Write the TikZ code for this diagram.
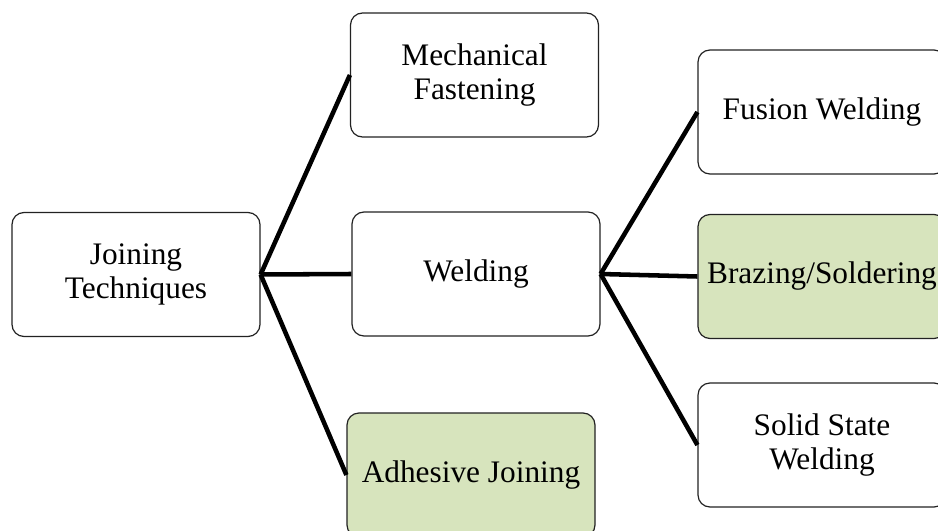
\documentclass[tikz,border=0pt]{standalone}
\usepackage{fontspec}
\setmainfont{Liberation Serif}
\definecolor{boxgreen}{HTML}{D7E4BD}
\definecolor{boxline}{HTML}{222222}
\begin{document}
\begin{tikzpicture}[x=0.75pt,y=-0.75pt,
  box/.style={draw=boxline,line width=0.9pt,rounded corners=9pt,fill=white,
    minimum width=186pt,minimum height=93pt,inner xsep=1pt,inner ysep=1pt,
    align=center,font=\fontsize{23.5}{25}\selectfont},
  gbox/.style={box,fill=boxgreen},
  link/.style={line width=3.4pt,black}]
\useasboundingbox (0,0) rectangle (938,531);
\node[box] (J) at (136,274.5) {Joining\\Techniques};
\node[box] (M) at (474.5,75) {Mechanical\\Fastening};
\node[box] (W) at (476,274) {Welding};
\node[gbox] (A) at (471,475) {Adhesive Joining};
\node[box] (F) at (822,112) {Fusion Welding};
\node[gbox] (B) at (822,276.5) {Brazing/Soldering};
\node[box] (S) at (822,445) {Solid State\\Welding};
\draw[link] (J.east) -- (M.west);
\draw[link] (J.east) -- (W.west);
\draw[link] (J.east) -- (A.west);
\draw[link] (W.east) -- (F.west);
\draw[link] (W.east) -- (B.west);
\draw[link] (W.east) -- (S.west);
\end{tikzpicture}
\end{document}
